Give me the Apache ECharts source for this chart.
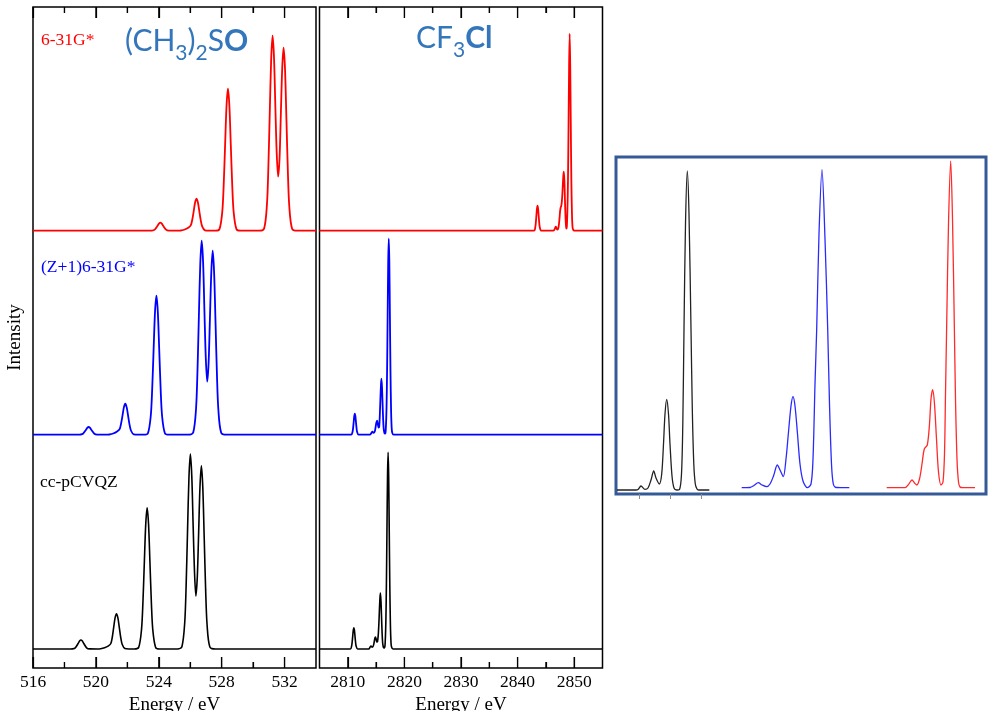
<!DOCTYPE html>
<html>
<head>
<meta charset="utf-8">
<title>Spectra</title>
<script src="https://cdn.jsdelivr.net/npm/echarts@6.0.0/dist/echarts.min.js"></script>
<style>
  html, body { margin: 0; padding: 0; background: #fff; }
  #main { width: 988px; height: 711px; }
</style>
</head>
<body>
<div id="main"></div>
<script>
// (CH3)2SO, O K-edge, [energy eV, intensity]
const dmsoRed = [
  [516, 0], [523.4, 0], [523.56, 0.1], [523.74, 1.1], [523.92, 4.9], [524.01, 7], [524.1, 8], [524.19, 7], [524.28, 4.9], [524.46, 1.1], [524.64, 0.1], [525.3, 0],
  [525.4, 0.2], [525.65, 1.2], [525.9, 3.2], [526.04, 5.5], [526.13, 11], [526.22, 19.4], [526.31, 28.2], [526.4, 32], [526.49, 28.2], [526.58, 19.4], [526.67, 10.4], [526.76, 4.3], [526.94, 0.35], [527.2, 0],
  [527.6, 0], [527.86, 1.6], [528.04, 19.2], [528.13, 46.2], [528.22, 86.2], [528.31, 125.2], [528.4, 142], [528.49, 125.2], [528.58, 86.2], [528.67, 46.2], [528.76, 19.2], [528.94, 1.6], [529.2, 0],
  [530.4, 0], [530.7, 2.2], [530.88, 26.3], [530.97, 63.4], [531.06, 118.4], [531.15, 172], [531.24, 195], [531.33, 172.6], [531.42, 121], [531.5, 78], [531.59, 54], [531.68, 72], [531.76, 114], [531.85, 162], [531.94, 183], [532.03, 161.4], [532.12, 111], [532.21, 59.5], [532.3, 24.7], [532.48, 2], [532.8, 0], [534, 0]
]
const dmsoBlue = [
  [516, 0], [518.9, 0], [519.0, 0.1], [519.18, 1], [519.36, 4.7], [519.45, 6.8], [519.54, 7.7], [519.63, 6.8], [519.72, 4.7], [519.9, 1], [520.08, 0.1], [520.7, 0],
  [520.85, 0.2], [521.1, 1.2], [521.35, 3.2], [521.51, 5.5], [521.6, 11], [521.69, 18.8], [521.78, 27.3], [521.87, 31], [521.96, 27.3], [522.05, 18.8], [522.14, 10.1], [522.23, 4.2], [522.41, 0.3], [522.7, 0],
  [523.05, 0], [523.31, 1.5], [523.49, 18.8], [523.58, 45.2], [523.67, 84.4], [523.76, 122.6], [523.85, 139], [523.94, 122.6], [524.03, 84.4], [524.12, 45.2], [524.21, 18.8], [524.39, 1.5], [524.65, 0],
  [525.9, 0], [526.19, 2.2], [526.37, 26], [526.46, 63], [526.55, 118], [526.64, 171], [526.73, 194], [526.82, 172], [526.91, 120], [526.99, 77], [527.08, 53], [527.17, 72], [527.25, 114], [527.34, 162], [527.43, 184], [527.52, 162], [527.61, 112], [527.7, 60], [527.79, 25], [527.97, 2], [528.3, 0], [534, 0]
]
const dmsoBlack = [
  [516, 0], [518.4, 0], [518.51, 0.1], [518.69, 1.2], [518.87, 5.5], [518.96, 7.9], [519.05, 9], [519.14, 7.9], [519.23, 5.5], [519.41, 1.2], [519.59, 0.1], [520.1, 0],
  [520.3, 0.2], [520.55, 1.2], [520.8, 3.2], [520.95, 5.5], [521.04, 11.5], [521.13, 21.4], [521.22, 31.1], [521.31, 35.3], [521.4, 31.1], [521.49, 21.4], [521.58, 11.5], [521.67, 4.8], [521.85, 0.4], [522.1, 0],
  [522.45, 0], [522.72, 1.6], [522.9, 19.1], [522.99, 45.9], [523.08, 85.8], [523.17, 124.6], [523.26, 141.3], [523.35, 124.6], [523.44, 85.8], [523.53, 45.9], [523.62, 19.1], [523.8, 1.6], [524.05, 0],
  [525.2, 0], [525.47, 2.2], [525.65, 26.3], [525.74, 63.4], [525.83, 118.4], [525.92, 172], [526.01, 195], [526.1, 172.6], [526.19, 121], [526.27, 78], [526.36, 53], [526.45, 72], [526.53, 113], [526.62, 162], [526.71, 183.3], [526.8, 161.6], [526.89, 111], [526.98, 59.6], [527.07, 24.7], [527.25, 2], [527.6, 0], [534, 0]
]

// CF3Cl, Cl K-edge
const cfclRed = [
  [2805, 0], [2842.9, 0], [2843.12, 3.4], [2843.22, 8.1], [2843.32, 15.2], [2843.42, 22], [2843.52, 25], [2843.62, 22], [2843.72, 15.2], [2843.82, 8.1], [2843.92, 3.4], [2844.2, 0],
  [2846.3, 0], [2846.45, 0.5], [2846.55, 1.5], [2846.65, 3], [2846.75, 4], [2846.85, 3], [2846.95, 1.5], [2847.1, 1.2], [2847.25, 4], [2847.4, 12], [2847.5, 19], [2847.6, 23], [2847.7, 24.5], [2847.8, 28], [2847.9, 36], [2848.0, 47], [2848.08, 55], [2848.16, 59], [2848.26, 51], [2848.36, 32], [2848.46, 14], [2848.56, 4], [2848.63, 2],
  [2848.7, 4], [2848.8, 20], [2848.9, 50], [2849.0, 105], [2849.1, 165], [2849.2, 197], [2849.3, 165], [2849.4, 105], [2849.5, 50], [2849.6, 18], [2849.7, 4], [2849.85, 0.5], [2850, 0], [2855, 0]
]
const cfclBlue = [
  [2805, 0], [2810.6, 0], [2810.84, 2.9], [2810.94, 6.8], [2811.04, 12.7], [2811.14, 18.5], [2811.24, 21], [2811.34, 18.5], [2811.44, 12.7], [2811.54, 6.8], [2811.64, 2.9], [2811.9, 0],
  [2813.9, 0], [2814.15, 1.5], [2814.35, 3], [2814.55, 1.8], [2814.75, 3], [2814.9, 7], [2815.04, 12], [2815.18, 14], [2815.32, 10], [2815.45, 7], [2815.55, 8], [2815.66, 20], [2815.76, 36], [2815.86, 50], [2815.94, 56], [2816.04, 48], [2816.14, 32], [2816.24, 16], [2816.34, 6], [2816.48, 1.5], [2816.6, 1],
  [2816.7, 4], [2816.84, 26.5], [2816.94, 63.7], [2817.04, 119], [2817.14, 173], [2817.24, 196], [2817.34, 173], [2817.44, 119], [2817.54, 63.7], [2817.64, 26.5], [2817.74, 8], [2817.84, 2.2], [2818.1, 0], [2855, 0]
]
const cfclBlack = [
  [2805, 0], [2810.45, 0], [2810.67, 2.9], [2810.77, 6.9], [2810.87, 12.9], [2810.97, 18.8], [2811.07, 21.3], [2811.17, 18.8], [2811.27, 12.9], [2811.37, 6.9], [2811.47, 2.9], [2811.75, 0],
  [2813.7, 0], [2813.9, 1.5], [2814.1, 3], [2814.3, 1.8], [2814.5, 3], [2814.65, 6.5], [2814.77, 10.5], [2814.88, 12], [2815.0, 10], [2815.12, 7], [2815.25, 7.5], [2815.38, 14], [2815.48, 24], [2815.58, 38], [2815.68, 51], [2815.76, 56], [2815.86, 48], [2815.96, 32], [2816.06, 16], [2816.16, 6], [2816.3, 1.5], [2816.45, 1],
  [2816.58, 4], [2816.72, 26.6], [2816.82, 64], [2816.92, 119.4], [2817.02, 173.5], [2817.12, 196.7], [2817.22, 173.5], [2817.32, 119.4], [2817.42, 64], [2817.52, 26.6], [2817.62, 8], [2817.72, 2.2], [2818, 0], [2855, 0]
]

// inset (arbitrary units)
const insetBlack = [
  [1, 4], [20, 4], [22, 4.5], [25, 8], [29, 4.7], [32, 6], [35, 14], [37.7, 23], [40, 16], [43.3, 10], [45.7, 20], [47.5, 50], [49, 80], [50.7, 94.7], [52.5, 80], [54, 50], [56, 18], [58, 6], [60.7, 4],
  [63.5, 4.5], [65.5, 20], [66.8, 70], [68, 165], [69.5, 270], [71.3, 323], [73, 280], [75, 165], [76.3, 85], [77.8, 30], [79.3, 10], [81, 5], [82.5, 4], [93.3, 4]
]
const insetBlue = [
  [125.7, 6.3], [134, 6.5], [138, 8.5], [142.3, 11.3], [146, 9], [150.7, 7.3], [154, 10], [157.5, 18], [161.3, 29], [164, 24], [167.3, 17.3], [170, 35], [172.5, 62], [175, 88], [177, 97.3], [179, 88], [181.5, 60], [184, 30], [187, 13], [191.3, 6.3],
  [195, 10], [197, 35], [199, 110], [200.7, 165], [203, 260], [206, 324.3], [209, 255], [211.7, 165], [213.5, 90], [215.5, 30], [217.3, 10], [220, 6.5], [233.3, 6.3]
]
const insetRed = [
  [270.7, 6.3], [289, 6.3], [292.5, 9.5], [296, 14], [298.5, 11], [300.7, 9], [303.5, 15], [306, 30], [308.3, 45], [311.3, 49], [313.5, 70], [315, 95], [316.7, 104.3], [318.5, 90], [320.5, 55], [322.5, 22], [325, 9],
  [327, 12], [328.5, 40], [329.5, 100], [330.7, 170], [332.5, 270], [334.7, 333], [336.5, 275], [338.3, 170], [339.5, 95], [341, 35], [342.5, 12], [344, 7], [347, 6.3], [359, 6.3]
]

// vertical offsets of the stacked spectra: red, blue, black
const stackOffsets = [437.3, 233.3, 19]

const dmsoMajorTicks = [516, 520, 524, 528, 532]
const dmsoMinorTicks = [518, 522, 526, 530]
const cfclMajorTicks = [2810, 2820, 2830, 2840, 2850]
const cfclMinorTicks = [2815, 2825, 2835, 2845]
const insetTicks = [23.3, 54, 85.7]

const serif = 'Liberation Serif'
const titleBlue = '#3376BB'
const panelTop = 661

function shift(points, offset) {
  return points.map(p => [p[0], p[1] + offset])
}

function labelAxis(gridIndex, min, max, ticks) {
  return {
    type: 'value',
    gridIndex: gridIndex,
    min: min,
    max: max,
    axisLine: { show: false, onZero: false },
    splitLine: { show: false },
    axisTick: { show: false },
    axisLabel: {
      customValues: ticks,
      margin: 5,
      fontFamily: serif,
      fontSize: 17.5,
      color: '#000',
      formatter: v => String(v),
    },
    name: 'Energy / eV',
    nameLocation: 'middle',
    nameGap: 20,
    nameTextStyle: { fontFamily: serif, fontSize: 19, color: '#000' },
  }
}

// inward frame ticks as markLine segments (1 intensity unit = 1 px on these axes)
function tickSegments(major, minor) {
  let segs = []
  major.forEach(v => {
    segs.push([{ coord: [v, 0] }, { coord: [v, 11] }])
    segs.push([{ coord: [v, panelTop] }, { coord: [v, panelTop - 11] }])
  })
  minor.forEach(v => {
    segs.push([{ coord: [v, 0] }, { coord: [v, 6] }])
    segs.push([{ coord: [v, panelTop] }, { coord: [v, panelTop - 6] }])
  })
  return segs
}

function spectrum(data, color, xIndex, yIndex, width, ticks) {
  let s = {
    type: 'line',
    data: data,
    xAxisIndex: xIndex,
    yAxisIndex: yIndex,
    showSymbol: false,
    smooth: 0.3,
    lineStyle: { color: color, width: width },
    silent: true,
    animation: false,
  }
  if (ticks) {
    s.markLine = {
      silent: true,
      animation: false,
      symbol: ['none', 'none'],
      label: { show: false },
      lineStyle: { color: '#000', width: 1.2, type: 'solid' },
      emphasis: { disabled: true },
      data: ticks,
    }
  }
  return s
}

// formula titles: pieces laid out left to right, subscripts lowered
let measureCtx = document.createElement('canvas').getContext('2d')
function formulaText(x, y, pieces) {
  let out = []
  pieces.forEach(p => {
    let size = p.sub ? 21 : 30
    let weight = p.bold ? 'bold' : 'normal'
    measureCtx.font = weight + ' ' + size + 'px Lato'
    out.push({
      type: 'text',
      x: x,
      y: p.sub ? y + 12 : y,
      style: {
        text: p.t,
        fill: titleBlue,
        fontFamily: 'Lato',
        fontSize: size,
        fontWeight: weight,
        verticalAlign: 'middle',
      },
    })
    x += measureCtx.measureText(p.t).width
  })
  return out
}

const textGraphics = [
  { type: 'text', x: 41, y: 40, style: { text: '6-31G*', fill: '#FF0000', fontFamily: serif, fontSize: 17.5, verticalAlign: 'middle' } },
  { type: 'text', x: 41, y: 267, style: { text: '(Z+1)6-31G*', fill: '#0000FF', fontFamily: serif, fontSize: 17.5, verticalAlign: 'middle' } },
  { type: 'text', x: 40, y: 482, style: { text: 'cc-pCVQZ', fill: '#000', fontFamily: serif, fontSize: 17.5, verticalAlign: 'middle' } },
].concat(
  formulaText(125, 41, [{ t: '(CH' }, { t: '3', sub: true }, { t: ')' }, { t: '2', sub: true }, { t: 'S' }, { t: 'O', bold: true }]),
  formulaText(416, 38, [{ t: 'CF' }, { t: '3', sub: true }, { t: 'Cl', bold: true }])
)

function spectraChart() {
  let chart = echarts.init(document.getElementById('main'))
  let framed = { show: true, backgroundColor: 'transparent', borderColor: '#000', borderWidth: 1.5, outerBoundsMode: 'none' }
  let option = {
    backgroundColor: '#fff',
    animation: false,
    grid: [
      Object.assign({}, framed, { left: 33, top: 7, width: 283, height: 661 }),
      Object.assign({}, framed, { left: 319.5, top: 7, width: 283, height: 661 }),
      Object.assign({}, framed, { left: 616, top: 157, width: 370, height: 337, borderColor: '#365A98', borderWidth: 3 }),
    ],
    xAxis: [
      labelAxis(0, 516, 534, dmsoMajorTicks),
      labelAxis(1, 2805, 2855, cfclMajorTicks),
      {
        type: 'value',
        gridIndex: 2,
        min: 0,
        max: 370,
        axisLine: { show: false },
        splitLine: { show: false },
        axisTick: { show: true, inside: false, length: 5, customValues: insetTicks, lineStyle: { color: '#8a8a8a' } },
        axisLabel: { show: false },
      },
    ],
    yAxis: [
      {
        type: 'value',
        gridIndex: 0,
        min: 0,
        max: panelTop,
        axisLine: { show: false },
        axisTick: { show: false },
        axisLabel: { show: false },
        splitLine: { show: false },
        name: 'Intensity',
        nameLocation: 'middle',
        nameRotate: 90,
        nameGap: 8,
        nameTextStyle: { fontFamily: serif, fontSize: 19, color: '#000' },
      },
      { type: 'value', gridIndex: 1, min: 0, max: panelTop, show: false },
      { type: 'value', gridIndex: 2, min: 0, max: 337, show: false },
    ],
    graphic: textGraphics,
    series: [
      spectrum(shift(dmsoRed, stackOffsets[0]), '#FF0000', 0, 0, 1.8),
      spectrum(shift(dmsoBlue, stackOffsets[1]), '#0000FF', 0, 0, 1.8),
      spectrum(shift(dmsoBlack, stackOffsets[2]), '#000000', 0, 0, 1.6, tickSegments(dmsoMajorTicks, dmsoMinorTicks)),
      spectrum(shift(cfclRed, stackOffsets[0]), '#FF0000', 1, 1, 1.8),
      spectrum(shift(cfclBlue, stackOffsets[1]), '#0000FF', 1, 1, 1.8),
      spectrum(shift(cfclBlack, stackOffsets[2]), '#000000', 1, 1, 1.6, tickSegments(cfclMajorTicks, cfclMinorTicks)),
      spectrum(insetBlack, '#222222', 2, 2, 1.3),
      spectrum(insetBlue, '#2a2aff', 2, 2, 1.3),
      spectrum(insetRed, '#ff2a2a', 2, 2, 1.3),
    ],
  }
  chart.setOption(option)

  // same ticks again as graphic lines, positioned through the grids' own scales
  let tickLines = []
  function addTicks(gridIndex, values, len) {
    values.forEach(v => {
      let b = chart.convertToPixel({ gridIndex: gridIndex }, [v, 0])
      let t = chart.convertToPixel({ gridIndex: gridIndex }, [v, panelTop])
      if (!b || !t) return
      let style = { stroke: '#000', lineWidth: 1.2 }
      tickLines.push({ type: 'line', z: 100, silent: true, shape: { x1: b[0], y1: b[1], x2: b[0], y2: b[1] - len }, style: style })
      tickLines.push({ type: 'line', z: 100, silent: true, shape: { x1: t[0], y1: t[1], x2: t[0], y2: t[1] + len }, style: style })
    })
  }
  addTicks(0, dmsoMajorTicks, 11)
  addTicks(0, dmsoMinorTicks, 6)
  addTicks(1, cfclMajorTicks, 11)
  addTicks(1, cfclMinorTicks, 6)
  chart.setOption({ graphic: textGraphics.concat(tickLines) })
}

spectraChart()
</script>
</body>
</html>
